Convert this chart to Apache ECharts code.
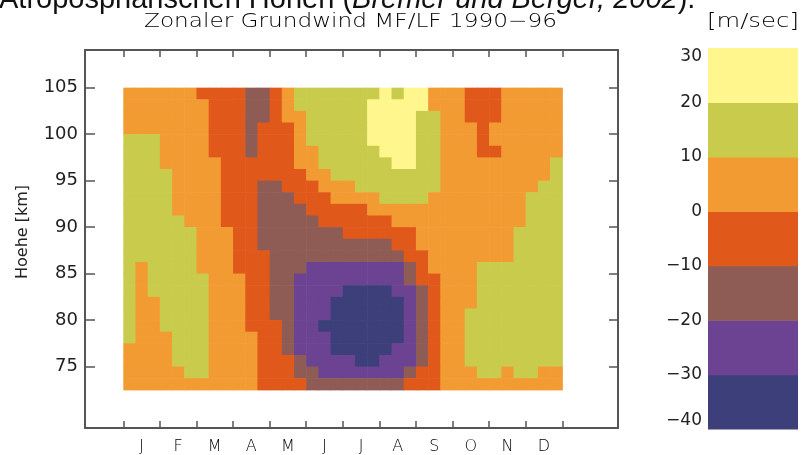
<!DOCTYPE html>
<html lang="de">
<head>
    <meta charset="UTF-8"/>
    <title>Zonaler Grundwind MF/LF 1990-96</title>
    <script src="https://cdn.jsdelivr.net/npm/echarts@6/dist/echarts.min.js"></script>
    <style>
        html, body { margin: 0; padding: 0; background: #fff; }
        #main { width: 802px; height: 455px; }
    </style>
</head>
<body>
<div id="main"></div>

<script type="text/javascript">
    // Monate, Hoehen-Ticks und Konturstufen (m/s)
    var months = ['J', 'F', 'M', 'A', 'M', 'J', 'J', 'A', 'S', 'O', 'N', 'D'];
    var heightTicks = [75, 80, 85, 90, 95, 100, 105];
    var levels = [-40, -30, -20, -10, 0, 10, 20, 30];
    var levelColors = ['#3d3f7a', '#6c4393', '#8f5c55', '#e1591a', '#f39b33', '#c9cb4c', '#fff68e'];

    // Raster: Zeilenmitten in km (1.25 km), Spalten = Drittelmonate (36)
    var rowHeights = [104.375, 103.125, 101.875, 100.625, 99.375, 98.125, 96.875, 95.625, 94.375, 93.125,
        91.875, 90.625, 89.375, 88.125, 86.875, 85.625, 84.375, 83.125, 81.875, 80.625,
        79.375, 78.125, 76.875, 75.625, 74.375, 73.125];
    var colMonths = [];
    for (var k = 0; k < 36; k++) colMonths.push((k + 0.5) / 3);

    // Zonalwind (m/s), eine Zeile pro Hoehe, von oben nach unten
    var windRows = [
        [5,5,5,5,5,5,-5,-5,-5,-5,-15,-15,-5,5,15,15,15,15,15,15,15,25,15,25,25,5,5,5,-5,-5,-5,5,5,5,5,5],
        [5,5,5,5,5,5,5,-5,-5,-5,-15,-15,-5,5,15,15,15,15,15,15,25,25,25,25,25,5,5,5,-5,-5,-5,5,5,5,5,5],
        [5,5,5,5,5,5,5,-5,-5,-5,-15,-15,-5,5,5,15,15,15,15,15,25,25,25,25,15,15,5,5,-5,-5,-5,5,5,5,5,5],
        [5,5,5,5,5,5,5,-5,-5,-5,-15,-5,-5,-5,5,15,15,15,15,15,25,25,25,25,15,15,5,5,5,-5,5,5,5,5,5,5],
        [15,15,15,5,5,5,5,-5,-5,-5,-15,-5,-5,-5,5,15,15,15,15,15,25,25,25,25,15,15,5,5,5,-5,5,5,5,5,5,5],
        [15,15,15,5,5,5,5,-5,-5,-5,-15,-5,-5,-5,5,5,15,15,15,15,15,25,25,25,15,15,5,5,5,-5,-5,5,5,5,5,5],
        [15,15,15,5,5,5,5,5,-5,-5,-5,-5,-5,-5,5,5,15,15,15,15,15,15,25,25,15,15,5,5,5,5,5,5,5,5,5,15],
        [15,15,15,15,5,5,5,5,-5,-5,-5,-5,-5,-5,-5,5,5,15,15,15,15,15,15,15,15,15,5,5,5,5,5,5,5,5,5,15],
        [15,15,15,15,5,5,5,5,-5,-5,-5,-15,-15,-5,-5,-5,5,5,5,15,15,15,15,15,15,15,5,5,5,5,5,5,5,5,15,15],
        [15,15,15,15,5,5,5,5,-5,-5,-5,-15,-15,-15,-5,-5,-5,5,5,5,5,15,15,15,15,5,5,5,5,5,5,5,5,15,15,15],
        [15,15,15,15,5,5,5,5,-5,-5,-5,-15,-15,-15,-15,-5,-5,-5,-5,-5,5,5,5,5,5,5,5,5,5,5,5,5,5,15,15,15],
        [15,15,15,15,15,5,5,5,-5,-5,-5,-15,-15,-15,-15,-15,-5,-5,-5,-5,-5,-5,5,5,5,5,5,5,5,5,5,5,5,15,15,15],
        [15,15,15,15,15,15,5,5,5,-5,-5,-15,-15,-15,-15,-15,-15,-15,-5,-5,-5,-5,-5,-5,5,5,5,5,5,5,5,5,15,15,15,15],
        [15,15,15,15,15,15,5,5,5,-5,-5,-15,-15,-15,-15,-15,-15,-15,-15,-15,-15,-15,-5,-5,5,5,5,5,5,5,5,5,15,15,15,15],
        [15,15,15,15,15,15,5,5,5,-5,-5,-5,-15,-15,-15,-15,-15,-15,-15,-15,-15,-15,-15,-5,-5,5,5,5,5,5,5,5,15,15,15,15],
        [15,5,15,15,15,15,5,5,5,-5,-5,-5,-15,-15,-15,-25,-25,-25,-25,-25,-25,-25,-25,-15,-5,5,5,5,5,15,15,15,15,15,15,15],
        [15,5,15,15,15,15,15,5,5,5,-5,-5,-15,-15,-25,-25,-25,-25,-25,-25,-25,-25,-25,-15,-5,-5,5,5,5,15,15,15,15,15,15,15],
        [15,5,15,15,15,15,15,5,5,5,-5,-5,-15,-15,-25,-25,-25,-25,-35,-35,-35,-35,-25,-25,-15,-5,5,5,5,15,15,15,15,15,15,15],
        [15,5,5,15,15,15,15,5,5,5,-5,-5,-15,-15,-25,-25,-25,-35,-35,-35,-35,-35,-35,-25,-15,-5,5,5,5,15,15,15,15,15,15,15],
        [15,5,5,15,15,15,15,5,5,5,-5,-5,-15,-15,-25,-25,-25,-35,-35,-35,-35,-35,-35,-25,-15,-5,5,5,15,15,15,15,15,15,15,15],
        [15,5,5,15,15,15,15,5,5,5,-5,-5,-5,-15,-25,-25,-35,-35,-35,-35,-35,-35,-35,-25,-15,-5,5,5,15,15,15,15,15,15,15,15],
        [15,5,5,5,15,15,15,5,5,5,5,-5,-5,-15,-25,-25,-25,-35,-35,-35,-35,-35,-35,-25,-15,-5,5,5,15,15,15,15,15,15,15,15],
        [5,5,5,5,15,15,15,5,5,5,5,-5,-5,-15,-25,-25,-25,-35,-35,-35,-35,-35,-25,-25,-15,-5,5,5,15,15,15,15,15,15,15,15],
        [5,5,5,5,15,15,15,5,5,5,5,-5,-5,-5,-15,-25,-25,-25,-25,-35,-35,-25,-25,-25,-15,-5,5,5,15,15,15,15,15,15,15,15],
        [5,5,5,5,5,15,15,5,5,5,5,-5,-5,-5,-15,-15,-25,-25,-25,-25,-25,-25,-25,-15,-5,-5,5,5,5,15,15,5,15,15,5,5],
        [5,5,5,5,5,5,5,5,5,5,5,-5,-5,-5,-5,-15,-15,-15,-15,-15,-15,-15,-15,-5,-5,-5,5,5,5,5,5,5,5,5,5,5]
    ];

    var cellData = [];
    for (var j = 0; j < rowHeights.length; j++) {
        for (var i = 0; i < colMonths.length; i++) {
            cellData.push([colMonths[i], rowHeights[j], windRows[j][i]]);
        }
    }

    var barData = [];
    for (var b = 0; b < levels.length - 1; b++) {
        barData.push([levels[b], levels[b + 1], b]);
    }

    var pieces = [];
    for (var p = 0; p < levels.length - 1; p++) {
        pieces.push({min: levels[p], max: levels[p + 1], color: levelColors[p]});
    }

    var monthTicks = [];
    var monthMids = [];
    for (var m = 0; m <= months.length; m++) {
        monthTicks.push(m);
        if (m < months.length) monthMids.push(m + 0.5);
    }

    var frameLine = {show: true, onZero: false, lineStyle: {color: '#555', width: 2}};
    var tickStyle = {color: '#555', width: 1.5};
    var thinFont = 'DejaVu Sans';

    var myChart = echarts.init(document.getElementById('main'));
    var option = {
        animation: false,
        backgroundColor: '#fff',
        grid: [
            {left: 85, right: 184, top: 50, bottom: 26},
            {left: 708, right: 4, top: 48, bottom: 26}
        ],
        xAxis: [
            {
                type: 'value', gridIndex: 0, position: 'bottom', min: -1.047, max: 13.524,
                axisLine: frameLine,
                axisTick: {show: true, inside: true, length: 7, lineStyle: tickStyle, customValues: monthTicks},
                axisLabel: {
                    show: true, customValues: monthMids, margin: 11,
                    fontFamily: thinFont, fontWeight: 200, fontSize: 16, color: '#000',
                    formatter: function (v) { return months[Math.floor(v)]; }
                },
                splitLine: {show: false}
            },
            {
                type: 'value', gridIndex: 0, position: 'top', min: -1.047, max: 13.524,
                axisLine: frameLine,
                axisTick: {show: true, inside: true, length: 7, lineStyle: tickStyle, customValues: monthTicks},
                axisLabel: {show: false},
                splitLine: {show: false}
            },
            {type: 'value', gridIndex: 1, min: 0, max: 1, show: false}
        ],
        yAxis: [
            {
                type: 'value', gridIndex: 0, position: 'left', min: 68.39, max: 109.05,
                axisLine: frameLine,
                axisTick: {show: true, inside: true, length: 10, lineStyle: tickStyle, customValues: heightTicks},
                axisLabel: {show: true, customValues: heightTicks, margin: 7, fontFamily: 'DejaVu Sans', fontSize: 18, color: '#222'},
                splitLine: {show: false}
            },
            {
                type: 'value', gridIndex: 0, position: 'right', min: 68.39, max: 109.05,
                axisLine: frameLine,
                axisTick: {show: true, inside: true, length: 9, lineStyle: tickStyle, customValues: heightTicks},
                axisLabel: {show: false},
                splitLine: {show: false}
            },
            {
                type: 'value', gridIndex: 1, min: -40, max: 30, interval: 10,
                axisLine: {show: false}, axisTick: {show: false}, splitLine: {show: false},
                axisLabel: {
                    margin: 6, fontFamily: 'DejaVu Sans', fontSize: 17, color: '#222',
                    verticalAlignMaxLabel: 'top', verticalAlignMinLabel: 'bottom',
                    formatter: function (v) { return String(v).replace('-', '\u2212'); }
                }
            }
        ],
        visualMap: {
            type: 'piecewise', show: false, dimension: 2, seriesIndex: 0,
            pieces: pieces
        },
        series: [
            {
                type: 'custom',
                xAxisIndex: 0, yAxisIndex: 0,
                encode: {x: 0, y: 1},
                data: cellData,
                renderItem: function (params, api) {
                    var mo = api.value(0), h = api.value(1);
                    var p0 = api.coord([mo - 1 / 6, h + 0.625]);
                    var p1 = api.coord([mo + 1 / 6, h - 0.625]);
                    return {
                        type: 'rect',
                        shape: {x: p0[0], y: p0[1], width: p1[0] - p0[0] + 0.6, height: p1[1] - p0[1] + 0.6},
                        style: {fill: api.visual('color')}
                    };
                }
            },
            {
                type: 'custom',
                xAxisIndex: 2, yAxisIndex: 2,
                encode: {y: [0, 1]},
                data: barData,
                renderItem: function (params, api) {
                    var p0 = api.coord([0, api.value(1)]);
                    var p1 = api.coord([1, api.value(0)]);
                    return {
                        type: 'rect',
                        shape: {x: p0[0], y: p0[1], width: p1[0] - p0[0], height: p1[1] - p0[1] + 0.6},
                        style: {fill: levelColors[api.value(2)]}
                    };
                }
            }
        ],
        graphic: [
            {
                type: 'text', x: -1, y: 0,
                style: {
                    text: '{a|Atroposphärischen Höhen (}{b|Bremer und Berger, 2002}{a|).}',
                    verticalAlign: 'middle', align: 'left',
                    rich: {
                        a: {fontFamily: 'Liberation Sans', fontSize: 29, fill: '#111'},
                        b: {fontFamily: 'Liberation Sans', fontSize: 29, fontStyle: 'italic', fill: '#111'}
                    }
                }
            },
            {
                type: 'text', x: 144, y: 22, scaleX: 1.22,
                style: {
                    text: 'Zonaler Grundwind MF/LF 1990\u221296',
                    fontFamily: thinFont, fontWeight: 200, fontSize: 19, fill: '#000',
                    align: 'left', verticalAlign: 'middle'
                }
            },
            {
                type: 'text', x: 707, y: 22, scaleX: 1.28,
                style: {
                    text: '[m/sec]',
                    fontFamily: thinFont, fontWeight: 200, fontSize: 19, fill: '#000',
                    align: 'left', verticalAlign: 'middle'
                }
            },
            {
                type: 'text', x: 23, y: 232, rotation: Math.PI / 2,
                style: {
                    text: 'Hoehe [km]',
                    fontFamily: 'DejaVu Sans', fontSize: 16, fill: '#222',
                    align: 'center', verticalAlign: 'middle'
                }
            }
        ]
    };
    myChart.setOption(option);
</script>
</body>
</html>
